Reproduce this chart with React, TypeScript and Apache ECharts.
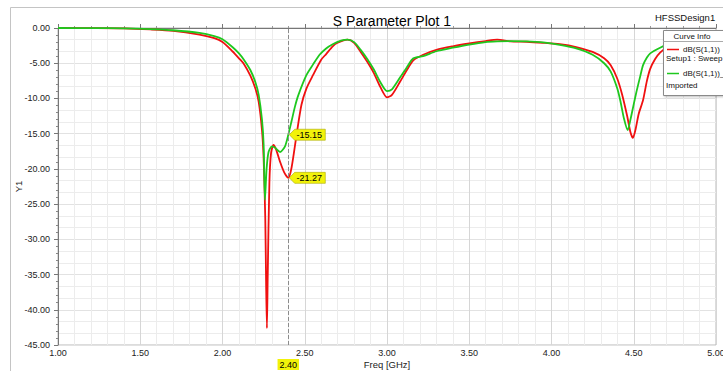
import React, { useEffect, useRef } from "react";
import * as echarts from "echarts";

// ---- data ----
const redFreq = [1.0, 1.2, 1.4, 1.56, 1.7, 1.86, 1.95, 2.0, 2.06, 2.1, 2.13, 2.17, 2.2, 2.22, 2.24, 2.25, 2.26, 2.265, 2.27, 2.275, 2.285, 2.295, 2.31, 2.325, 2.35, 2.375, 2.4, 2.42, 2.45, 2.48, 2.51, 2.55, 2.6, 2.63, 2.67, 2.7, 2.76, 2.8, 2.84, 2.88, 2.92, 2.96, 3.0, 3.03, 3.08, 3.12, 3.16, 3.22, 3.3, 3.4, 3.5, 3.6, 3.67, 3.75, 3.85, 3.95, 4.05, 4.15, 4.25, 4.32, 4.36, 4.4, 4.43, 4.46, 4.48, 4.495, 4.51, 4.53, 4.556, 4.58, 4.6, 4.63, 4.66, 4.7, 4.8, 4.9, 5.0];
const redDb = [0.0, -0.02, -0.06, -0.2, -0.4, -0.95, -1.45, -2.0, -3.3, -4.3, -5.1, -6.8, -8.6, -10.5, -14.5, -18.5, -27, -36, -42.6, -35, -22, -17.8, -16.6, -17.2, -19.0, -20.5, -21.27, -19.8, -15.2, -10.9, -8.6, -6.7, -4.5, -3.7, -2.6, -2.1, -1.65, -2.1, -3.4, -4.8, -6.4, -8.4, -9.85, -9.5, -7.6, -6.0, -4.6, -3.8, -3.1, -2.6, -2.2, -1.85, -1.65, -1.9, -1.95, -2.1, -2.3, -2.7, -3.4, -4.3, -5.3, -7.2, -9.5, -12.5, -14.8, -15.6, -14.5, -12.2, -10.3, -7.5, -5.8, -4.4, -3.5, -2.8, -2.0, -1.7, -1.5];

const greenFreq = [1.0, 1.2, 1.4, 1.56, 1.7, 1.86, 1.95, 2.0, 2.06, 2.1, 2.13, 2.17, 2.2, 2.22, 2.24, 2.25, 2.258, 2.268, 2.28, 2.3, 2.32, 2.35, 2.38, 2.4, 2.42, 2.44, 2.46, 2.51, 2.55, 2.59, 2.63, 2.67, 2.72, 2.76, 2.8, 2.84, 2.88, 2.92, 2.96, 3.0, 3.03, 3.08, 3.12, 3.16, 3.22, 3.3, 3.4, 3.5, 3.6, 3.67, 3.75, 3.85, 3.95, 4.05, 4.15, 4.25, 4.32, 4.36, 4.4, 4.42, 4.44, 4.463, 4.48, 4.5, 4.517, 4.54, 4.556, 4.58, 4.6, 4.66, 4.7, 4.8, 4.9, 5.0];
const greenDb = [0.0, -0.02, -0.05, -0.15, -0.32, -0.7, -1.15, -1.6, -2.7, -3.6, -4.5, -6.0, -7.7, -9.5, -13.0, -16.5, -24.4, -20.0, -17.6, -16.8, -17.0, -17.6, -16.8, -15.15, -13.2, -11.2, -9.6, -6.7, -5.2, -3.8, -2.9, -2.3, -1.8, -1.65, -2.0, -3.1, -4.4, -5.9, -7.7, -8.95, -8.7, -7.0, -5.6, -4.3, -4.0, -3.3, -2.8, -2.35, -2.0, -1.9, -1.85, -1.9, -2.05, -2.4, -2.9, -3.8, -5.0, -6.2, -8.6, -10.5, -12.8, -14.5, -13.0, -10.8, -9.0, -6.8, -5.3, -4.2, -3.6, -2.8, -2.4, -1.9, -1.6, -1.4];

const cursorFreq = 2.4;
const redMarker = -21.27;
const greenMarker = -15.15;

const FONT = "Liberation Sans, Arial, sans-serif";

function pairs(xs: number[], ys: number[]) {
  return xs.map((x, i) => [x, ys[i]]);
}

function markerPoint(value: number) {
  return {
    symbol: "path://M0,5L6,0L40,0L40,10L6,10Z",
    symbolSize: [36, 11],
    symbolOffset: [19, 0],
    silent: true,
    itemStyle: { color: "#f2f20a", borderColor: "#a8a800", borderWidth: 0.5 },
    label: {
      show: true,
      position: "inside",
      offset: [2, 0],
      color: "#000",
      fontSize: 9,
      fontFamily: FONT,
      formatter: () => value.toFixed(2),
    },
    data: [{ coord: [cursorFreq, value] }],
  };
}

export default function App() {
  const ref = useRef<HTMLDivElement>(null);
  useEffect(() => {
    if (!ref.current) return;
    const chart = echarts.init(ref.current, null, { renderer: "svg" });
    const option: any = {
      animation: false,
      backgroundColor: "#ffffff",
      textStyle: { fontFamily: FONT },
      title: {
        text: "S Parameter Plot 1",
        left: 387,
        textAlign: "center",
        top: 9,
        textStyle: { fontSize: 14, fontWeight: "normal", color: "#000", fontFamily: FONT },
      },
      grid: {
        left: 58,
        right: 7,
        top: 28,
        bottom: 26,
        outerBoundsMode: "none",
        containLabel: false,
        show: true,
        borderColor: "#b8b8b8",
        borderWidth: 1,
      },
      xAxis: {
        type: "value",
        min: 1,
        max: 5,
        interval: 0.5,
        name: "Freq [GHz]",
        nameLocation: "middle",
        nameMoveOverlap: false,
        nameGap: 14,
        nameTextStyle: { fontSize: 9.5, color: "#222", fontFamily: FONT },
        axisLine: { show: true, lineStyle: { color: "#777", width: 1 } },
        axisTick: { show: true, inside: true, length: 4, lineStyle: { color: "#777" } },
        minorTick: { show: true, splitNumber: 5, length: 2, lineStyle: { color: "#999" } },
        axisLabel: {
          fontSize: 9,
          color: "#222",
          margin: 3,
          formatter: (v: number) => v.toFixed(2),
        },
        splitLine: { show: true, lineStyle: { color: "#d6d6d6", width: 1 } },
        minorSplitLine: { show: true, lineStyle: { color: "#ececec", width: 1 } },
      },
      yAxis: [
        {
          type: "value",
          min: -45,
          max: 0,
          interval: 5,
          name: "Y1",
          nameLocation: "middle",
          nameMoveOverlap: false,
          nameGap: 35,
          nameTextStyle: { fontSize: 9.5, color: "#222", fontFamily: FONT },
          axisLine: { show: true, lineStyle: { color: "#777", width: 1 } },
          axisTick: { show: true, inside: false, length: 4, lineStyle: { color: "#777" } },
          minorTick: { show: true, splitNumber: 5, length: 2, lineStyle: { color: "#888" } },
          axisLabel: {
            fontSize: 9,
            color: "#222",
            margin: 8,
            formatter: (v: number) => v.toFixed(2),
          },
          splitLine: { show: true, lineStyle: { color: "#e2e2e2", width: 1 } },
        },
        {
          type: "value",
          min: -45,
          max: 0,
          interval: 5,
          position: "left",
          axisLine: { show: false },
          axisTick: { show: false },
          axisLabel: { show: false },
          minorTick: { show: false, splitNumber: 3 },
          splitLine: { show: false },
          minorSplitLine: { show: true, lineStyle: { color: "#ececec", width: 1 } },
        },
      ],
      series: [
        {
          name: "dB(S(1,1))",
          type: "line",
          data: pairs(redFreq, redDb),
          showSymbol: false,
          smooth: 0.25,
          lineStyle: { color: "#f01010", width: 1.8 },
          itemStyle: { color: "#f01010" },
          z: 3,
          markLine: {
            silent: true,
            symbol: "none",
            lineStyle: { type: "dashed", color: "#8c8c8c", width: 1 },
            label: {
              show: true,
              position: "start",
              distance: 14,
              formatter: () => cursorFreq.toFixed(2),
              backgroundColor: "#f2f20a",
              padding: [1, 2],
              color: "#000",
              fontSize: 9,
              fontFamily: FONT,
            },
            data: [{ xAxis: cursorFreq }],
          },
          markPoint: markerPoint(redMarker),
        },
        {
          name: "dB(S(1,1))_Imported",
          type: "line",
          data: pairs(greenFreq, greenDb),
          showSymbol: false,
          smooth: 0.25,
          lineStyle: { color: "#1ec81e", width: 1.8 },
          itemStyle: { color: "#1ec81e" },
          z: 4,
          markPoint: markerPoint(greenMarker),
        },
      ],
      graphic: [
        {
          type: "rect",
          shape: { x: 10.5, y: 7.5, width: 760, height: 400 },
          style: { fill: "none", stroke: "#c4c4c4", lineWidth: 1 },
          silent: true,
          z: 1,
        },
        {
          type: "text",
          x: 655,
          y: 17,
          style: { text: "HFSSDesign1", fontSize: 9.5, fill: "#111", fontFamily: FONT, verticalAlign: "middle" },
          z: 10,
        },
        {
          type: "group",
          z: 100,
          children: [
            {
              type: "rect",
              shape: { x: 663.5, y: 30.5, width: 70, height: 65 },
              style: { fill: "#fff", stroke: "#8a8a8a", lineWidth: 1, shadowColor: "rgba(0,0,0,0.25)", shadowBlur: 2, shadowOffsetX: 1, shadowOffsetY: 1 },
              z: 100,
            },
            {
              type: "line",
              shape: { x1: 663.5, y1: 41.5, x2: 730, y2: 41.5 },
              style: { stroke: "#aaa", lineWidth: 1 },
              z: 101,
            },
            {
              type: "text",
              x: 692,
              y: 36,
              style: { text: "Curve Info", fontSize: 8, fill: "#111", fontFamily: FONT, align: "center", verticalAlign: "middle" },
              z: 101,
            },
            {
              type: "line",
              shape: { x1: 667, y1: 49.5, x2: 679, y2: 49.5 },
              style: { stroke: "#f01010", lineWidth: 1.5 },
              z: 101,
            },
            {
              type: "text",
              x: 683,
              y: 49.5,
              style: { text: "dB(S(1,1))", fontSize: 8, fill: "#111", fontFamily: FONT, verticalAlign: "middle" },
              z: 101,
            },
            {
              type: "text",
              x: 666,
              y: 58,
              style: { text: "Setup1 : Sweep", fontSize: 8, fill: "#111", fontFamily: FONT, verticalAlign: "middle" },
              z: 101,
            },
            {
              type: "line",
              shape: { x1: 667, y1: 73.5, x2: 679, y2: 73.5 },
              style: { stroke: "#1ec81e", lineWidth: 1.5 },
              z: 101,
            },
            {
              type: "text",
              x: 683,
              y: 73.5,
              style: { text: "dB(S(1,1))_Imported", fontSize: 8, fill: "#111", fontFamily: FONT, verticalAlign: "middle" },
              z: 101,
            },
            {
              type: "text",
              x: 666,
              y: 85,
              style: { text: "Imported", fontSize: 8, fill: "#111", fontFamily: FONT, verticalAlign: "middle" },
              z: 101,
            },
          ],
        },
      ],
    };
    chart.setOption(option);
    return () => chart.dispose();
  }, []);
  return (
    <div
      ref={ref}
      style={{ position: "fixed", left: 0, top: 0, width: 723, height: 371 }}
    />
  );
}
